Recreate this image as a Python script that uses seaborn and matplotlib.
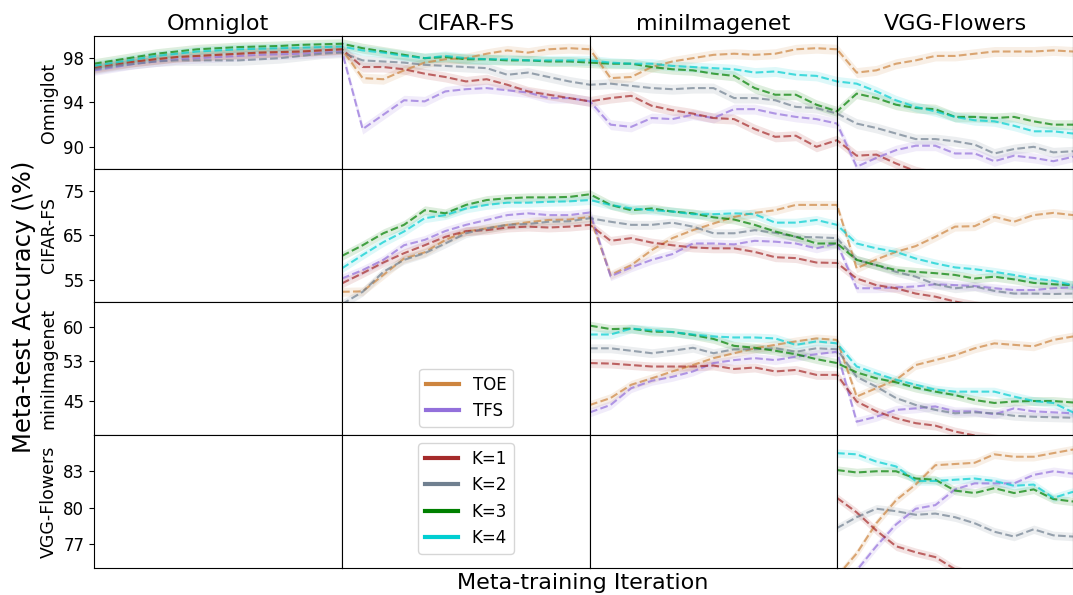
import numpy as np
import pandas as pd
import seaborn as sns
import matplotlib
matplotlib.use("Agg")
import matplotlib.pyplot as plt
from matplotlib.lines import Line2D

# --- data ---
DATASETS = ["Omniglot", "CIFAR-FS", "miniImagenet", "VGG-Flowers"]
METHODS = ["TOE", "TFS", "K=1", "K=2", "K=3", "K=4"]
COLORS = {"TOE": "#cd853f", "TFS": "#9370db", "K=1": "#a52a2a",
          "K=2": "#708090", "K=3": "#008000", "K=4": "#00ced1"}
STEPS = 12  # evaluation points per training stage

# meta-test on Omniglot (stages: Omniglot, CIFAR-FS, miniImagenet, VGG-Flowers)
omni_toe = [97.2, 97.5, 97.7, 97.9, 98.1, 98.2, 98.3, 98.4, 98.5, 98.55, 98.6, 98.7, 98.8,
            96.2, 96.1, 96.9, 97.6, 97.9, 98.0, 98.4, 98.7, 98.5, 98.8, 98.9, 98.8,
            96.2, 96.3, 97.2, 97.7, 98.0, 98.3, 98.4, 98.3, 98.4, 98.8, 98.9, 98.8,
            96.7, 96.9, 97.5, 97.8, 98.2, 98.2, 98.4, 98.6, 98.6, 98.6, 98.7, 98.6]
omni_tfs = [96.9, 97.2, 97.5, 97.7, 97.9, 98.0, 98.1, 98.2, 98.3, 98.35, 98.4, 98.5, 98.6,
            91.6, 92.9, 94.2, 94.1, 95.0, 95.2, 95.3, 95.1, 94.9, 94.4, 94.4, 94.1,
            92.0, 91.8, 92.6, 92.5, 92.9, 92.6, 93.4, 93.4, 93.0, 92.7, 92.5, 92.1,
            88.2, 89.0, 89.7, 90.1, 90.1, 89.4, 89.4, 88.7, 89.2, 89.0, 88.7, 89.1]
omni_k1 = [97.1, 97.4, 97.7, 97.9, 98.1, 98.2, 98.3, 98.4, 98.5, 98.55, 98.6, 98.7, 98.8,
           97.2, 97.2, 97.0, 96.6, 96.3, 95.9, 96.1, 95.6, 95.0, 94.7, 94.4, 94.1,
           94.4, 94.6, 93.7, 93.3, 93.0, 92.6, 92.5, 91.6, 90.9, 91.0, 90.0, 90.6,
           89.2, 89.3, 88.5, 87.8, 87.4, 87.0, 86.6, 86.3, 86.0, 85.7, 85.4, 85.2]
omni_k2 = [97.0, 97.3, 97.5, 97.7, 97.8, 97.8, 97.8, 97.8, 97.9, 98.0, 98.2, 98.4, 98.5,
           97.8, 97.7, 97.6, 97.4, 97.3, 97.2, 97.1, 96.5, 96.7, 96.3, 95.9, 95.6,
           95.7, 95.5, 95.3, 95.2, 95.3, 95.3, 94.4, 94.4, 94.2, 93.6, 93.5, 93.0,
           92.1, 91.7, 91.2, 90.7, 90.7, 90.5, 90.2, 89.4, 89.8, 90.0, 89.5, 89.6]
omni_k3 = [97.5, 97.8, 98.1, 98.4, 98.6, 98.8, 98.9, 99.0, 99.05, 99.1, 99.2, 99.25, 99.3,
           98.9, 98.6, 98.3, 98.0, 98.1, 97.9, 97.9, 97.8, 97.8, 97.7, 97.7, 97.6,
           97.5, 97.5, 97.2, 97.0, 96.9, 96.6, 96.4, 95.3, 94.7, 94.7, 93.8, 93.2,
           94.8, 94.4, 93.8, 93.5, 93.4, 92.7, 92.7, 92.6, 92.7, 92.3, 92.0, 92.0]
omni_k4 = [97.3, 97.6, 97.9, 98.2, 98.4, 98.6, 98.7, 98.8, 98.85, 98.9, 98.95, 99.0, 99.05,
           98.7, 98.5, 98.2, 98.0, 98.2, 98.0, 97.9, 97.9, 97.8, 97.8, 97.8, 97.8,
           97.6, 97.5, 97.5, 97.3, 97.2, 97.1, 97.0, 96.7, 96.8, 96.5, 96.4, 95.9,
           95.7, 95.0, 94.2, 93.6, 93.2, 92.7, 92.4, 92.3, 91.9, 91.4, 91.4, 91.2]

# meta-test on CIFAR-FS (from stage CIFAR-FS on)
cifar_toe = [52.3, 52.4, 56.1, 59.8, 61.2, 64.0, 65.9, 66.6, 67.4, 68.0, 68.5, 68.6, 69.2,
             56.1, 58.3, 61.7, 64.4, 66.2, 67.7, 69.2, 70.1, 70.7, 71.9, 71.9, 71.9,
             57.6, 59.6, 61.3, 62.6, 64.7, 67.0, 67.1, 69.2, 68.1, 69.6, 70.1, 69.6]
cifar_tfs = [55.3, 57.2, 59.5, 62.8, 64.0, 66.0, 67.4, 68.5, 69.6, 70.0, 69.6, 69.6, 70.2,
             55.8, 57.8, 59.5, 60.8, 63.2, 63.2, 63.0, 63.8, 63.6, 63.2, 62.1, 63.2,
             53.1, 53.1, 53.3, 53.5, 54.0, 53.8, 53.6, 53.1, 52.7, 52.7, 53.1, 53.3]
cifar_k1 = [54.2, 56.5, 58.9, 61.0, 62.8, 64.7, 66.0, 66.2, 66.8, 67.0, 66.8, 67.0, 67.4,
            63.8, 64.4, 63.4, 62.8, 62.3, 62.1, 62.1, 61.3, 60.1, 59.9, 58.9, 58.8,
            55.3, 53.8, 53.1, 51.9, 51.2, 50.1, 49.3, 48.6, 48.0, 47.4, 46.9, 46.4]
cifar_k2 = [49.5, 52.3, 56.8, 59.5, 61.0, 63.2, 65.5, 66.6, 67.4, 67.6, 68.1, 68.2, 68.9,
            68.1, 67.4, 67.4, 67.9, 67.0, 65.5, 65.5, 66.2, 65.6, 64.7, 64.6, 64.4,
            59.5, 58.3, 56.8, 55.7, 54.0, 53.1, 53.5, 52.5, 51.9, 51.9, 51.8, 51.9]
cifar_k3 = [60.4, 62.8, 65.5, 67.4, 70.7, 70.0, 71.9, 73.0, 73.4, 73.6, 73.6, 73.7, 74.3,
            71.9, 70.7, 71.1, 70.4, 70.0, 69.1, 68.6, 67.4, 65.9, 64.7, 63.2, 63.2,
            59.5, 58.3, 57.2, 56.8, 56.5, 56.1, 55.3, 55.7, 55.1, 54.3, 54.0, 53.8]
cifar_k4 = [57.6, 60.6, 63.5, 65.9, 68.9, 69.6, 71.1, 71.9, 72.4, 72.4, 72.6, 72.7, 73.0,
            71.9, 71.1, 70.7, 70.4, 69.8, 69.8, 70.0, 69.8, 67.9, 67.9, 68.5, 67.4,
            63.2, 62.1, 61.3, 59.8, 58.7, 57.8, 57.4, 56.8, 56.1, 55.3, 54.8, 53.8]

# meta-test on miniImagenet
mini_toe = [44.1, 45.5, 48.2, 49.5, 50.9, 52.2, 53.6, 54.6, 55.6, 56.3, 57.0, 57.6, 57.3,
            45.8, 47.5, 49.2, 52.2, 53.2, 54.2, 55.6, 56.6, 56.3, 56.0, 57.3, 58.0]
mini_tfs = [42.6, 44.1, 47.5, 49.0, 49.8, 50.9, 52.6, 53.2, 53.6, 53.2, 53.9, 54.4, 54.9,
            40.7, 41.7, 43.1, 43.4, 43.8, 42.8, 42.8, 42.2, 43.4, 42.8, 42.6, 42.4]
mini_k1 = [52.6, 52.5, 52.2, 51.9, 51.9, 51.9, 52.1, 51.4, 51.7, 50.9, 51.2, 50.2, 50.2,
           44.8, 42.8, 41.4, 40.4, 39.9, 38.7, 37.9, 37.3, 36.8, 36.4, 36.0, 35.7]
mini_k2 = [55.6, 55.6, 55.1, 54.6, 55.1, 55.7, 54.6, 55.4, 55.4, 55.6, 54.9, 55.6, 55.4,
           49.8, 47.8, 45.5, 44.1, 43.1, 42.4, 42.6, 42.4, 41.9, 41.7, 41.6, 41.5]
mini_k3 = [60.2, 59.5, 59.6, 59.0, 58.9, 58.3, 57.5, 56.1, 55.7, 55.1, 54.4, 53.4, 52.6,
           50.7, 49.5, 48.7, 47.6, 46.8, 46.1, 45.1, 44.5, 44.8, 44.9, 44.9, 44.6]
mini_k4 = [58.4, 58.4, 59.6, 59.3, 58.9, 58.4, 58.0, 57.8, 57.8, 57.6, 56.3, 57.0, 56.6,
           51.9, 50.5, 49.2, 48.2, 47.2, 46.8, 46.8, 46.8, 45.8, 44.9, 44.5, 42.6]

# meta-test on VGG-Flowers
vgg_toe = [74.3, 76.2, 78.7, 80.6, 81.9, 83.5, 83.6, 83.7, 84.4, 84.2, 84.2, 84.5, 84.8]
vgg_tfs = [73.0, 74.8, 76.8, 78.6, 79.9, 80.2, 81.5, 82.0, 82.0, 82.0, 82.7, 83.0, 82.8]
vgg_k1 = [80.8, 79.6, 78.1, 76.8, 76.3, 75.9, 74.9, 74.3, 73.8, 73.3, 72.9, 72.5, 72.2]
vgg_k2 = [78.3, 79.2, 79.9, 79.7, 79.4, 79.5, 79.2, 78.7, 78.0, 77.6, 78.2, 77.7, 77.6]
vgg_k3 = [83.1, 82.9, 83.0, 83.0, 82.4, 82.3, 81.4, 81.2, 81.6, 81.2, 81.5, 80.7, 80.5]
vgg_k4 = [84.5, 84.4, 83.8, 83.4, 82.2, 82.2, 82.3, 82.4, 82.2, 81.8, 81.9, 80.8, 81.3]

SERIES = {
    "Omniglot": [omni_toe, omni_tfs, omni_k1, omni_k2, omni_k3, omni_k4],
    "CIFAR-FS": [cifar_toe, cifar_tfs, cifar_k1, cifar_k2, cifar_k3, cifar_k4],
    "miniImagenet": [mini_toe, mini_tfs, mini_k1, mini_k2, mini_k3, mini_k4],
    "VGG-Flowers": [vgg_toe, vgg_tfs, vgg_k1, vgg_k2, vgg_k3, vgg_k4],
}
Y_LIMITS = [(88, 100), (50, 80), (38, 65), (75, 86)]
Y_TICKS = [[90, 94, 98], [55, 65, 75], [45, 53, 60], [77, 80, 83]]
BAND = [0.45, 1.0, 0.9, 0.35]  # half-width of shaded band per test set

# --- long table ---
rows = []
for r, name in enumerate(DATASETS):
    for m, vals in zip(METHODS, SERIES[name]):
        for i, v in enumerate(vals):
            rows.append({"test": name, "method": m, "step": r * STEPS + i, "acc": v})
df = pd.DataFrame(rows)

fig, axes = plt.subplots(4, 4, figsize=(10.73, 5.95), dpi=100,
                         gridspec_kw=dict(wspace=0, hspace=0, width_ratios=[248, 248, 247, 236]))
fig.subplots_adjust(left=0.0876, right=1.0, top=0.9395, bottom=0.0454)

for r, name in enumerate(DATASETS):
    d = df[df.test == name]
    for c in range(4):
        ax = axes[r, c]
        if c >= r:
            sns.lineplot(data=d, x="step", y="acc", hue="method", hue_order=METHODS,
                         palette=COLORS, linestyle="--", linewidth=1.5, alpha=0.7,
                         errorbar=None, legend=False, ax=ax)
            for m in METHODS:
                sub = d[d.method == m]
                ax.fill_between(sub.step, sub.acc - BAND[r], sub.acc + BAND[r],
                                color=COLORS[m], alpha=0.13, linewidth=0)
            ax.set_xlim(c * STEPS, (c + 1) * STEPS)
        ax.set_ylim(Y_LIMITS[r])
        ax.set_xticks([])
        ax.set_xlabel("")
        if c == 0:
            ax.set_yticks(Y_TICKS[r])
            ax.tick_params(axis="y", labelsize=12)
            ax.set_ylabel(name, fontsize=12.5)
        else:
            ax.set_yticks([])
            ax.set_ylabel("")
        if r == 0:
            ax.set_title(DATASETS[c], fontsize=16, pad=4)

# legends in the empty panels
h1 = [Line2D([0], [0], color=COLORS[m], lw=3, label=m) for m in METHODS[:2]]
axes[2, 1].legend(handles=h1, loc="lower center", fontsize=12)
h2 = [Line2D([0], [0], color=COLORS[m], lw=3, label=m) for m in METHODS[2:]]
axes[3, 1].legend(handles=h2, loc="upper center", fontsize=12)

fig.text(0.022, 0.485, "Meta-test Accuracy (\\%)", rotation=90, ha="center", va="center", fontsize=17.5)
fig.text(0.5435, 0.02, "Meta-training Iteration", ha="center", va="center", fontsize=16)

fig.savefig("out.png", dpi=100)
